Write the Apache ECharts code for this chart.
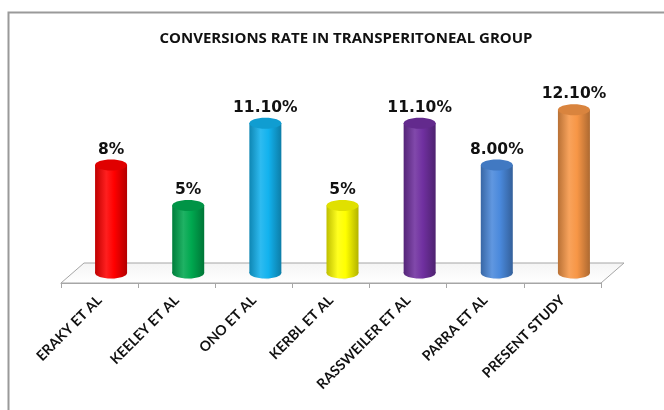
<!DOCTYPE html>
<html lang="en">
<head>
    <meta charset="UTF-8">
    <title>Conversions rate</title>
    <script src="https://cdn.jsdelivr.net/npm/echarts@6/dist/echarts.min.js"></script>
</head>
<style>
    *{
        margin: 0;
        padding: 0;
    }
    html,body{
        width: 100%;
        height: 100%;
        overflow: hidden;
        background: #fff;
    }
    .container{
        width: 664px;
        height: 410px;
    }
</style>
<body>
<div class="container"></div>
<script>
    let categories = ['ERAKY ET AL', 'KEELEY ET AL', 'ONO ET AL', 'KERBL ET AL', 'RASSWEILER ET AL', 'PARRA ET AL', 'PRESENT STUDY'];
    let values = [8, 5, 11.1, 5, 11.1, 8, 12.1];
    let valueLabels = ['8%', '5%', '11.10%', '5%', '11.10%', '8.00%', '12.10%'];
    let colors = ['#ff0000', '#00a84f', '#12b2ee', '#ffff00', '#7030a0', '#4a89dc', '#f79646'];

    let container = document.querySelector('.container');
    let mycharts = echarts.init(container);

    // depth of the 3d floor
    let depthX = 23, depthY = -20;

    function shade(hex, k) {
        let n = parseInt(hex.slice(1), 16);
        let r = (n >> 16) & 255, g = (n >> 8) & 255, b = n & 255;
        let f = c => Math.max(0, Math.min(255, Math.round(k < 0 ? c * (1 + k) : c + (255 - c) * k)));
        return 'rgb(' + f(r) + ',' + f(g) + ',' + f(b) + ')';
    }

    function floorItem(params, api) {
        let c0 = api.coord([0, 0]);
        let band = api.size([1, 0])[0];
        let left = c0[0] - band / 2;
        let right = left + band * categories.length;
        let y = c0[1];
        return {
            type: 'polygon',
            shape: {
                points: [[left, y], [right, y], [right + depthX, y + depthY], [left + depthX, y + depthY]]
            },
            style: {
                fill: new echarts.graphic.LinearGradient(0, 0, 0, 1, [
                    {offset: 0, color: '#f4f4f4'},
                    {offset: 1, color: '#ffffff'}
                ]),
                stroke: '#a6a6a6',
                lineWidth: 1
            }
        };
    }

    function cylinderItem(params, api) {
        let i = params.dataIndex;
        let top = api.coord([api.value(0), api.value(1)]);
        let base = api.coord([api.value(0), 0]);
        let cx = top[0] + depthX / 2;
        let yTop = top[1] + depthY / 2;
        let yBot = base[1] + depthY / 2;
        let w = 32, ry = 5.5;
        let col = colors[i];
        let bodyFill = new echarts.graphic.LinearGradient(0, 0, 1, 0, [
            {offset: 0, color: shade(col, -0.25)},
            {offset: 0.35, color: shade(col, 0.12)},
            {offset: 0.6, color: col},
            {offset: 1, color: shade(col, -0.3)}
        ]);
        return {
            type: 'group',
            children: [
                {
                    type: 'ellipse',
                    shape: {cx: cx + 2, cy: yBot + 1, rx: w * 0.85, ry: 6},
                    style: {
                        fill: new echarts.graphic.RadialGradient(0.5, 0.5, 0.5, [
                            {offset: 0, color: 'rgba(80,80,80,0.55)'},
                            {offset: 1, color: 'rgba(80,80,80,0)'}
                        ])
                    }
                },
                {
                    type: 'ellipse',
                    shape: {cx: cx, cy: yBot, rx: w / 2, ry: ry},
                    style: {fill: bodyFill}
                },
                {
                    type: 'rect',
                    shape: {x: cx - w / 2, y: yTop, width: w, height: yBot - yTop},
                    style: {fill: bodyFill}
                },
                {
                    type: 'ellipse',
                    shape: {cx: cx, cy: yTop, rx: w / 2, ry: ry},
                    style: {fill: shade(col, -0.12)}
                },
                {
                    type: 'text',
                    style: {
                        x: cx,
                        y: yTop - ry - 2,
                        text: valueLabels[i],
                        align: 'center',
                        verticalAlign: 'bottom',
                        fontFamily: 'DejaVu Sans',
                        fontWeight: 'bold',
                        fontSize: 15.5,
                        fill: '#111'
                    }
                }
            ]
        };
    }

    let option = {
        backgroundColor: '#fff',
        animation: false,
        title: {
            text: 'CONVERSIONS RATE IN TRANSPERITONEAL GROUP',
            left: 341,
            textAlign: 'center',
            top: 26,
            textStyle: {
                fontFamily: 'Open Sans',
                fontWeight: 'bold',
                fontSize: 15,
                color: '#111'
            }
        },
        graphic: [{
            type: 'rect',
            shape: {x: 8.5, y: 12.5, width: 700, height: 500},
            style: {fill: 'none', stroke: '#9a9a9a', lineWidth: 2},
            silent: true
        }],
        grid: {
            left: 61,
            right: 63,
            top: 94,
            bottom: 127
        },
        xAxis: {
            type: 'category',
            data: categories,
            axisLine: {show: true, lineStyle: {color: '#a6a6a6'}},
            axisTick: {show: true, length: 5, lineStyle: {color: '#a6a6a6'}},
            axisLabel: {
                rotate: 45,
                margin: 15,
                fontFamily: 'Lato',
                fontWeight: 'bold',
                fontSize: 14,
                color: '#111'
            }
        },
        yAxis: {
            type: 'value',
            min: 0,
            max: 14,
            show: false,
            splitLine: {show: false}
        },
        series: [
            {
                type: 'custom',
                z: 1,
                silent: true,
                renderItem: floorItem,
                data: [[0, 0]]
            },
            {
                type: 'custom',
                z: 2,
                renderItem: cylinderItem,
                data: values.map((v, i) => [i, v])
            }
        ]
    };

    mycharts.setOption(option);
</script>
</body>
</html>
